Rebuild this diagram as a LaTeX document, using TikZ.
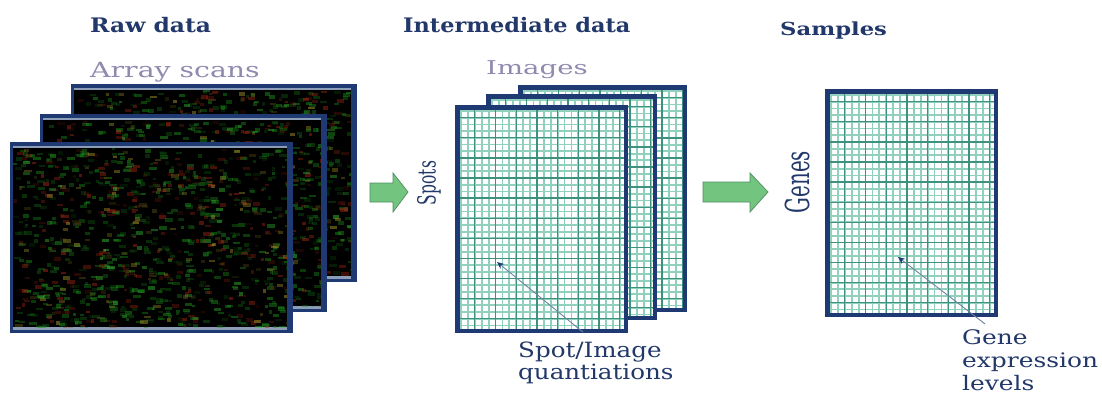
\documentclass[tikz,border=0pt]{standalone}
\usepackage{graphicx}
\usepackage{fontspec}
\setmainfont{DejaVu Serif}
\usetikzlibrary{arrows.meta}
\definecolor{navy}{HTML}{1F3A73}
\definecolor{frameLight}{HTML}{8C9DB8}
\definecolor{headtxt}{HTML}{22386A}
\definecolor{subtxt}{HTML}{8E8AB0}
\definecolor{gridlight}{HTML}{92D0BE}
\definecolor{griddark}{HTML}{3F917F}
\definecolor{arrowgreen}{HTML}{72C47E}
\definecolor{arrowedge}{HTML}{4E8E62}
\definecolor{sgreen}{HTML}{1C8E1C}
\definecolor{sbright}{HTML}{34C034}
\definecolor{sred}{HTML}{A02814}
\definecolor{syellow}{HTML}{A89A2A}
\definecolor{pointer}{HTML}{7383A3}
\newcommand\sx[2]{\scalebox{#1}[1]{#2}}
\pgfmathdeclarerandomlist{spk}{{sgreen}{sgreen}{sgreen}{sgreen}{sgreen}{sbright}{sred}{sred}{syellow}}
\newcommand\scanpanel[4]{%
  \fill[navy] (#1,-#2) rectangle (#3,-#4);
  \fill[black] (#1+3,-#2-6) rectangle (#3-6,-#4+6);
  \fill[frameLight] (#1+3,-#2-4) rectangle (#3-6,-#2-6);
  \fill[frameLight] (#1+3,-#4+3) rectangle (#3-6,-#4+6);
  \begin{scope}
  \clip (#1+3,-#2-6) rectangle (#3-6,-#4+6);
  \foreach \i in {1,...,1000}{%
    \pgfmathsetmacro\px{#1+2+rnd*(#3-#1-8)}%
    \pgfmathsetmacro\py{#2+6+rnd*(#4-#2-12)}%
    \pgfmathsetmacro\op{0.12+0.4*rnd}%
    \pgfmathsetmacro\pw{3+5*rnd}%
    \pgfmathsetmacro\ph{2+2*rnd}%
    \pgfmathrandomitem{\pc}{spk}%
    \fill[\pc, opacity=\op] (\px,-\py) rectangle ++(\pw,-\ph);
  }%
  \end{scope}
}
\newcommand\gridpanel[4]{%
  \fill[white] (#1,-#2) rectangle (#3,-#4);
  \pgfmathtruncatemacro\nx{(#3-#1-10)/6.9}%
  \pgfmathtruncatemacro\ny{(#4-#2-10)/6.7}%
  \foreach \k in {0,...,\nx}{\draw[gridlight, line width=1.8] (#1+6+\k*6.9,-#2) -- (#1+6+\k*6.9,-#4);}
  \foreach \k in {0,...,\ny}{\draw[gridlight, line width=1.8] (#1,-#2-6-\k*6.7) -- (#3,-#2-6-\k*6.7);}
  \foreach \k in {2,5,...,\nx}{\draw[griddark, line width=1.3] (#1+6+\k*6.9,-#2) -- (#1+6+\k*6.9,-#4);}
  \foreach \k in {1,4,...,\ny}{\draw[griddark, line width=1.3] (#1,-#2-6-\k*6.7) -- (#3,-#2-6-\k*6.7);}
  \draw[navy, line width=4.5] (#1+2.25,-#2-2.25) rectangle (#3-2.25,-#4+2.25);
}
\tikzset{
  head/.style={text=headtxt, font=\bfseries\fontsize{20}{20}\selectfont, inner sep=0pt, anchor=base west},
  sub/.style={text=subtxt, font=\fontsize{21}{21}\selectfont, inner sep=0pt, anchor=base west},
  lbl/.style={text=headtxt, inner sep=0pt, anchor=base west, align=left},
  axis/.style={text=headtxt, inner sep=0pt, rotate=90},
  bigarrow/.style={fill=arrowgreen, draw=arrowedge, line width=0.7},
  ptr/.style={pointer, line width=0.9, -{Stealth[length=7pt, width=6pt, color=navy]}}
}
\begin{document}
\begin{tikzpicture}[x=1pt, y=1pt]
\useasboundingbox (0,0) rectangle (1102,-397);
\clip (0,0) rectangle (1102,-397);
\fill[white] (0,0) rectangle (1102,-397);
\pgfmathsetseed{7}
% headings
\node[head] (raw) at (90,-32) {\sx{1.17}{Raw data}};
\node[head] (inter) at (403,-32) {\sx{1.12}{Intermediate data}};
\node[head, font=\bfseries\fontsize{18}{18}\selectfont] (samp) at (780,-35) {\sx{1.26}{Samples}};
\node[sub] (arr) at (90,-77) {\sx{1.35}{Array scans}};
\node[sub, font=\fontsize{19}{19}\selectfont] (img) at (486,-74) {\sx{1.45}{Images}};
% scans
\scanpanel{71}{84}{357}{282}
\scanpanel{40}{114}{327}{312}
\scanpanel{10}{142}{293}{333}
% arrows
\draw[bigarrow] (370,-183) -- (393,-183) -- (393,-173) -- (408,-192) -- (393,-212) -- (393,-202) -- (370,-202) -- cycle;
\draw[bigarrow] (703,-182) -- (750,-182) -- (750,-173) -- (768,-192) -- (750,-212) -- (750,-202) -- (703,-202) -- cycle;
% images
\gridpanel{518}{85}{687}{312}
\gridpanel{486}{94}{657}{320}
\gridpanel{455}{105}{628}{333}
\gridpanel{825}{89}{998}{317}
% axis labels
\node[axis, font=\fontsize{25}{25}\selectfont] (spots) at (429,-183) {\sx{0.62}{Spots}};
\node[axis, font=\fontsize{33}{33}\selectfont] (genes) at (797,-182) {\sx{0.6}{Genes}};
% bottom labels
\node[lbl, font=\fontsize{21}{20}\selectfont] (quant) at (518,-379) {\sx{1.17}{Spot/Image}\\\sx{1.17}{quantiations}};
\node[lbl, font=\fontsize{20}{23}\selectfont] (gel) at (962,-390) {\sx{1.245}{Gene}\\\sx{1.245}{expression}\\\sx{1.245}{levels}};
\coordinate (q1) at (497,-262);
\coordinate (q2) at (898,-257);
\draw[ptr] ([xshift=65pt, yshift=10pt]quant.north west) -- (q1);
\draw[ptr] ([xshift=23pt, yshift=5pt]gel.north west) -- (q2);
\end{tikzpicture}
\end{document}
